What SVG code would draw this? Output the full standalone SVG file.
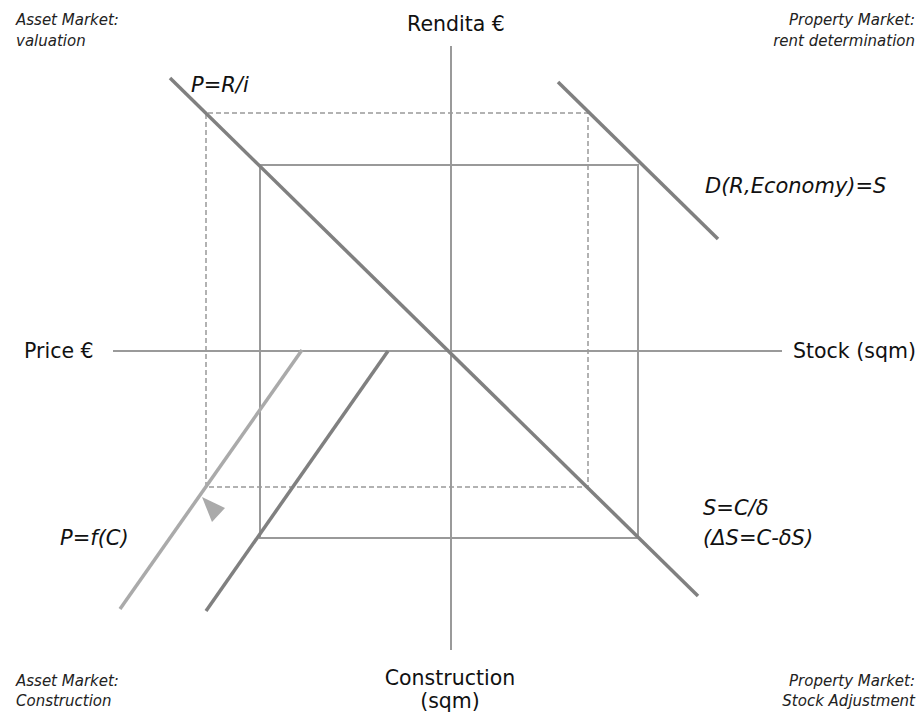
<svg xmlns="http://www.w3.org/2000/svg" width="923" height="713" viewBox="0 0 923 713">
<style>
.axis{stroke:#9a9a9a;stroke-width:2;fill:none}
.box{stroke:#999;stroke-width:2;fill:none}
.dash{stroke:#999;stroke-width:1.5;fill:none;stroke-dasharray:5,3}
.curve{stroke:#808080;stroke-width:3.5;fill:none}
.light{stroke:#aaa;stroke-width:3.5;fill:none}
.ax{font-family:"DejaVu Sans",Verdana,sans-serif;font-size:20.5px;fill:#111}
.q{font-family:"DejaVu Sans",Verdana,sans-serif;font-size:15px;font-style:italic;fill:#222}
.eq{font-family:"DejaVu Sans",Verdana,sans-serif;font-size:21px;font-style:italic;fill:#111}
</style>
<rect width="923" height="713" fill="#fff"/>
<g id="connectors">
<line class="axis" x1="451" y1="46" x2="451" y2="650"/>
<line class="axis" x1="113" y1="351" x2="782" y2="351"/>
<rect class="box" x="260" y="165" width="378" height="373"/>
<polyline class="dash" points="206,487 206,113 588,113 588,487 206,487"/>
<line class="curve" x1="170" y1="78" x2="698" y2="596"/>
<line class="curve" x1="558" y1="82" x2="718" y2="239"/>
<line class="curve" x1="388" y1="351" x2="206" y2="611"/>
<line class="light" x1="302" y1="350" x2="120" y2="609"/>
<polygon points="202,497 225,508 212,522" fill="#aaa"/>
</g>
<g id="axis-labels">
<text class="ax" x="456" y="31" text-anchor="middle">Rendita €</text>
<text class="ax" x="24" y="358">Price €</text>
<text class="ax" x="793" y="358">Stock (sqm)</text>
<text class="ax" x="450" y="685" text-anchor="middle">Construction</text>
<text class="ax" x="450" y="708" text-anchor="middle">(sqm)</text>
</g>
<g id="quadrant-labels">
<text class="q" x="16" y="25">Asset Market:</text>
<text class="q" x="16" y="46">valuation</text>
<text class="q" x="915" y="25" text-anchor="end">Property Market:</text>
<text class="q" x="915" y="46" text-anchor="end">rent determination</text>
<text class="q" x="16" y="686">Asset Market:</text>
<text class="q" x="16" y="706">Construction</text>
<text class="q" x="915" y="686" text-anchor="end">Property Market:</text>
<text class="q" x="915" y="706" text-anchor="end">Stock Adjustment</text>
</g>
<g id="equations">
<text class="eq" x="191" y="92">P=R/i</text>
<text class="eq" x="705" y="193">D(R,Economy)=S</text>
<text class="eq" x="703" y="515">S=C/δ</text>
<text class="eq" x="703" y="545">(ΔS=C-δS)</text>
<text class="eq" x="60" y="545">P=f(C)</text>
</g>
</svg>
